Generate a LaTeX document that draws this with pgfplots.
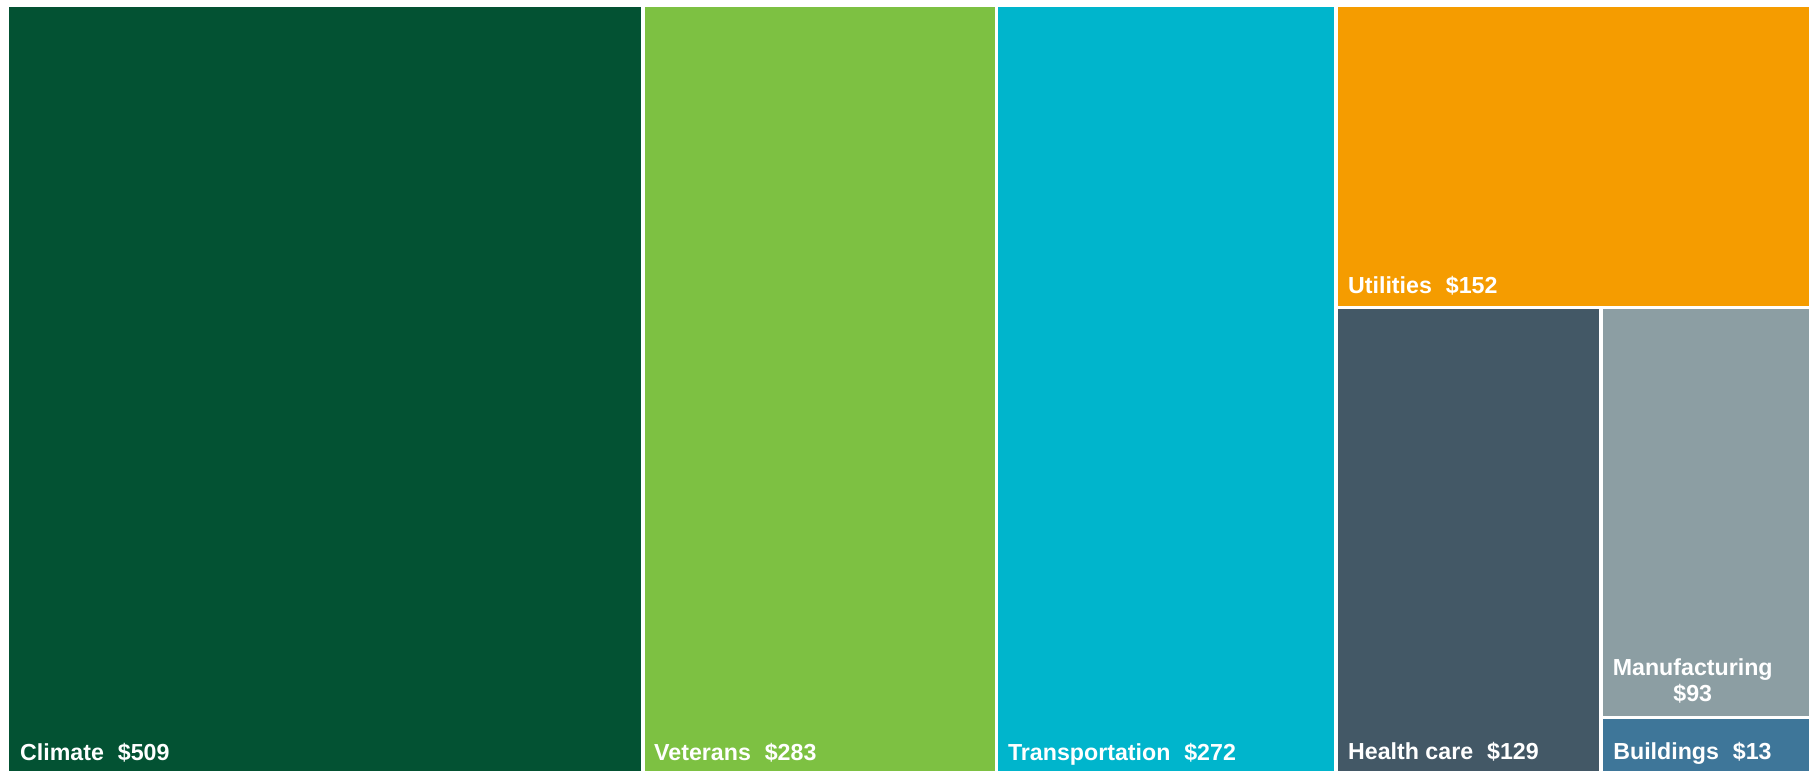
\documentclass[border=0pt]{standalone}
\usepackage{pgfplots}
\pgfplotsset{compat=1.18}
\usepackage{fontspec}
\setmainfont{Liberation Sans}
\definecolor{climate}{RGB}{3,82,51}
\definecolor{veterans}{RGB}{125,193,66}
\definecolor{transport}{RGB}{0,181,204}
\definecolor{utilities}{RGB}{245,156,0}
\definecolor{health}{RGB}{67,88,102}
\definecolor{manuf}{RGB}{140,158,163}
\definecolor{buildings}{RGB}{62,118,153}
\begin{document}
\begin{tikzpicture}[x=1mm,y=1mm,
  lbl/.style={font=\bfseries\fontsize{6.6}{7.4}\selectfont,text=white,anchor=base west,inner sep=0pt}]
\useasboundingbox (0,0) rectangle (180.9,-77);
% treemap: values 509,283,272 | 152 over (129 | 93 over 13); total 1451
% the source crops the right and bottom edges slightly
\begin{axis}[
  at={(0.75mm,-0.5mm)},anchor=north west,
  scale only axis,width=181.16mm,height=77.0mm,
  xmin=0,xmax=1451,ymin=0,ymax=1,
  hide axis,
  every axis plot/.append style={draw=white,line width=0.35mm},
]
\addplot[fill=climate] coordinates {(0,0)(509,0)(509,1)(0,1)} -- cycle;
\addplot[fill=veterans] coordinates {(509,0)(792,0)(792,1)(509,1)} -- cycle;
\addplot[fill=transport] coordinates {(792,0)(1064,0)(1064,1)(792,1)} -- cycle;
\addplot[fill=utilities] coordinates {(1064,0.6072)(1451,0.6072)(1451,1)(1064,1)} -- cycle;
\addplot[fill=health] coordinates {(1064,0)(1276.4,0)(1276.4,0.6072)(1064,0.6072)} -- cycle;
\addplot[fill=manuf] coordinates {(1276.4,0.0745)(1451,0.0745)(1451,0.6072)(1276.4,0.6072)} -- cycle;
\addplot[fill=buildings] coordinates {(1276.4,0)(1451,0)(1451,0.0745)(1276.4,0.0745)} -- cycle;
\node[lbl] at ([xshift=1.2mm,yshift=1.5mm]axis cs:0,0) {Climate\hspace{0.6em}\$509};
\node[lbl] at ([xshift=1.05mm,yshift=1.5mm]axis cs:509,0) {Veterans\hspace{0.6em}\$283};
\node[lbl] at ([xshift=1.1mm,yshift=1.5mm]axis cs:792,0) {Transportation\hspace{0.6em}\$272};
\node[lbl] at ([xshift=1.15mm,yshift=1.4mm]axis cs:1064,0.6072) {Utilities\hspace{0.6em}\$152};
\node[lbl] at ([xshift=1.15mm,yshift=1.55mm]axis cs:1064,0) {Health care\hspace{0.6em}\$129};
\node[lbl] at ([xshift=1.15mm,yshift=1.55mm]axis cs:1276.4,0) {Buildings\hspace{0.6em}\$13};
\node[lbl,anchor=south west,align=center] at ([xshift=1.1mm,yshift=1.35mm]axis cs:1276.4,0.0745) {Manufacturing\\\$93};
\end{axis}
\end{tikzpicture}
\end{document}
